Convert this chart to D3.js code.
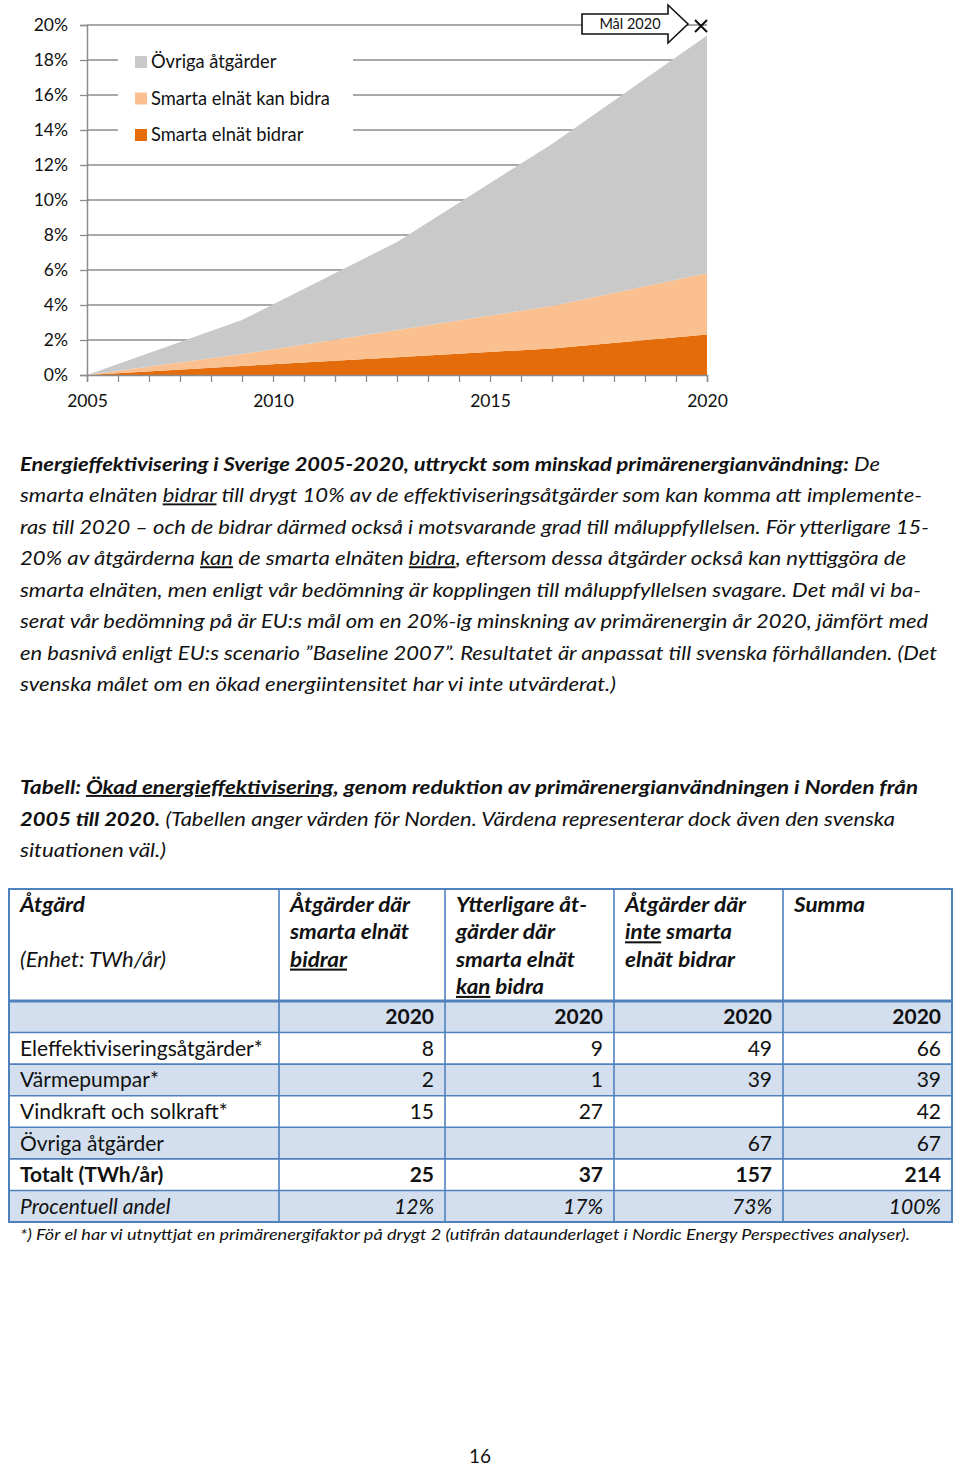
<!DOCTYPE html>
<html><head><meta charset="utf-8">
<script src="https://cdn.jsdelivr.net/npm/d3@7"></script>
<style>
html,body{margin:0;padding:0;background:#fff;}
svg{display:block;}
text{font-family:Lato,"Open Sans",sans-serif;fill:#111;}
</style></head>
<body>
<svg id="page" width="960" height="1466"></svg>
<script>
// ---------- DATA ----------
// category axis: 21 tick slots, labelled at slots 0, 6, 13, 20
const xSlots = d3.range(21);
const xSlotLabels = {0:"2005", 6:"2010", 13:"2015", 20:"2020"};
const pointSlots = [0, 5, 10, 15, 20];
const smartaBidrar   = [0, 0.0052, 0.0101, 0.0152, 0.0232];
const smartaKanBidra = [0, 0.0068, 0.0156, 0.0242, 0.0349];
const ovrigaAtgarder = [0, 0.0194, 0.0503, 0.0926, 0.1359];
const seriesNames = ["Smarta elnät bidrar", "Smarta elnät kan bidra", "Övriga åtgärder"];
const seriesColors = ["#E46C0A", "#FAC090", "#C9C9C9"];
const goalSlot = 20, goalValue = 0.20, goalLabel = "Mål 2020";
const yTicks = [0, 0.02, 0.04, 0.06, 0.08, 0.10, 0.12, 0.14, 0.16, 0.18, 0.20];

const paragraph = [
 "§Energieffektivisering i Sverige 2005-2020, uttryckt som minskad primärenergianvändning:§ De",
 "smarta elnäten _bidrar_ till drygt 10% av de effektiviseringsåtgärder som kan komma att implemente-",
 "ras till 2020 – och de bidrar därmed också i motsvarande grad till måluppfyllelsen. För ytterligare 15-",
 "20% av åtgärderna _kan_ de smarta elnäten _bidra_, eftersom dessa åtgärder också kan nyttiggöra de",
 "smarta elnäten, men enligt vår bedömning är kopplingen till måluppfyllelsen svagare. Det mål vi ba-",
 "serat vår bedömning på är EU:s mål om en 20%-ig minskning av primärenergin år 2020, jämfört med",
 "en basnivå enligt EU:s scenario ”Baseline 2007”. Resultatet är anpassat till svenska förhållanden. (Det",
 "svenska målet om en ökad energiintensitet har vi inte utvärderat.)"
];
const paragraphEnds = [880, 922, 929, 906, 921, 928, 937, 616];

const caption = [
 "§Tabell: _Ökad energieffektivisering_, genom reduktion av primärenergianvändningen i Norden från§",
 "§2005 till 2020.§ (Tabellen anger värden för Norden. Värdena representerar dock även den svenska",
 "situationen väl.)"
];
const captionEnds = [918, 895, 166];

const tableHeaders = [
 ["§Åtgärd§", "", "(Enhet: TWh/år)"],
 ["§Åtgärder där§", "§smarta elnät§", "§_bidrar_§"],
 ["§Ytterligare åt-§", "§gärder där§", "§smarta elnät§", "§_kan_ bidra§"],
 ["§Åtgärder där§", "§_inte_ smarta§", "§elnät bidrar§"],
 ["§Summa§"]
];
const tableHeaderWidths = [
 [65, 0, 146],
 [120, 119, 57],
 [131, 99, 119, 88],
 [121, 107, 110],
 [71]
];
const yearRowLabel = "2020";
const tableRows = ["Eleffektiviseringsåtgärder*", "Värmepumpar*", "Vindkraft och solkraft*", "Övriga åtgärder", "Totalt (TWh/år)", "Procentuell andel"];
const colBidrar   = ["8", "2", "15", "", "25", "12%"];
const colKanBidra = ["9", "1", "27", "", "37", "17%"];
const colInte     = ["49", "39", "", "67", "157", "73%"];
const colSumma    = ["66", "39", "42", "67", "214", "100%"];
const footnote = "*) För el har vi utnyttjat en primärenergifaktor på drygt 2 (utifrån dataunderlaget i Nordic Energy Perspectives analyser).";
const pageNumber = "16";

// ---------- HELPERS ----------
const svg = d3.select("#page");
function segments(str){
  const out = []; let bold=false, und=false, cur="";
  for (const ch of str){
    if (ch==="§"||ch==="_"){ if(cur) out.push({t:cur,b:bold,u:und}); cur=""; if(ch==="§") bold=!bold; else und=!und; }
    else cur+=ch;
  }
  if(cur) out.push({t:cur,b:bold,u:und});
  return out;
}
function richText(g, str, x, y, opts){
  const t = g.append("text").attr("x", x).attr("y", y)
    .style("font-size", opts.size+"px")
    .style("font-style", opts.italic ? "italic" : "normal");
  segments(str).forEach(s=>{
    t.append("tspan").text(s.t)
      .style("font-weight", s.b ? "700" : "400")
      .style("text-decoration", s.u ? "underline" : "none");
  });
  if (opts.width) t.attr("textLength", opts.width).attr("lengthAdjust", "spacingAndGlyphs");
  return t;
}

// ---------- CHART ----------
const x = d3.scaleLinear().domain([0, 20]).range([87, 707]);
const y = d3.scaleLinear().domain([0, 0.20]).range([375, 25]);
const chart = svg.append("g");

chart.append("g").selectAll("line").data(yTicks.slice(1)).join("line")
  .attr("x1", x(0)).attr("x2", x(20))
  .attr("y1", d=>y(d)).attr("y2", d=>y(d))
  .attr("stroke", "#8c8c8c").attr("stroke-width", 1.3);

chart.append("rect").attr("x", 118).attr("y", 42).attr("width", 235).attr("height", 106).attr("fill", "#fff");

const rows = pointSlots.map((s,i)=>({slot:s, a:smartaBidrar[i], b:smartaKanBidra[i], c:ovrigaAtgarder[i]}));
const stack = d3.stack().keys(["a","b","c"])(rows);
const area = d3.area().x(d=>x(d.data.slot)).y0(d=>y(d[0])).y1(d=>y(d[1]));
chart.append("g").selectAll("path").data(stack).join("path")
  .attr("d", area).attr("fill", (d,i)=>seriesColors[i]);

const yAxis = chart.append("g").attr("transform", `translate(${x(0)},0)`)
  .call(d3.axisLeft(y).tickValues(yTicks).tickSize(7).tickPadding(12).tickFormat(d3.format(".0%")));
yAxis.select(".domain").attr("stroke", "#8c8c8c").attr("stroke-width", 1.5);
yAxis.selectAll(".tick line").attr("stroke", "#8c8c8c").attr("stroke-width", 1.3);
yAxis.selectAll(".tick text").style("font-size", "17.5px").attr("fill", "#111").style("font-family", "Lato");

const xAxis = chart.append("g").attr("transform", `translate(0,${y(0)})`)
  .call(d3.axisBottom(x).tickValues(xSlots).tickSize(7).tickPadding(13)
    .tickFormat(d=> xSlotLabels[d] || ""));
xAxis.select(".domain").attr("stroke", "#8c8c8c").attr("stroke-width", 1.5);
xAxis.selectAll(".tick line").attr("stroke", "#8c8c8c").attr("stroke-width", 1.3);
xAxis.selectAll(".tick text").style("font-size", "17.5px").attr("fill", "#111").style("font-family", "Lato");

const legendOrder = [2,1,0];
const lg = chart.append("g");
legendOrder.forEach((si, k)=>{
  const cy = 62 + k*36.5;
  lg.append("rect").attr("x", 135).attr("y", cy-6).attr("width", 12).attr("height", 12).attr("fill", seriesColors[si]);
  lg.append("text").attr("x", 151).attr("y", cy).attr("dy", "0.35em").style("font-size", "18.3px").text(seriesNames[si]);
});

const gx = x(goalSlot), gy = y(goalValue);
const tipX = gx - 19, tipY = gy - 1;
const arrowPts = [[tipX-106,tipY-10],[tipX-20,tipY-10],[tipX-20,tipY-19],[tipX,tipY],[tipX-20,tipY+19],[tipX-20,tipY+10],[tipX-106,tipY+10]];
chart.append("polygon").attr("points", arrowPts.map(p=>p.join(",")).join(" "))
  .attr("fill", "#fff").attr("stroke", "#111").attr("stroke-width", 1.6);
chart.append("text").attr("x", tipX-58).attr("y", tipY).attr("dy", "0.35em").attr("text-anchor", "middle")
  .style("font-size", "14.5px").text(goalLabel);
const mx = gx - 6, my = gy + 1;
chart.append("path").attr("d", `M${mx-6},${my-6}L${mx+6},${my+6}M${mx-6},${my+6}L${mx+6},${my-6}`)
  .attr("stroke", "#111").attr("stroke-width", 2);

// ---------- PARAGRAPH ----------
const pg = svg.append("g");
paragraph.forEach((line, i)=>{
  richText(pg, line, 20, 471 + i*31.43, {size:19, italic:true, width: paragraphEnds[i]-20});
});
caption.forEach((line, i)=>{
  richText(pg, line, 20, 794 + i*31.5, {size:19, italic:true, width: captionEnds[i]-20});
});

// ---------- TABLE ----------
const colEdges = [9, 279, 445, 614, 783, 952];
const headTop = 889, headBottom = 1001, rowH = (1222-1001)/7;
const tg = svg.append("g");
const bodyRows = [{label:"", vals:[yearRowLabel,yearRowLabel,yearRowLabel,yearRowLabel], style:"bold"}]
  .concat(tableRows.map((r,i)=>({label:r, vals:[colBidrar[i], colKanBidra[i], colInte[i], colSumma[i]],
     style: i===4 ? "bold" : (i===5 ? "italic" : "normal")})));
tg.selectAll("rect.bg").data(bodyRows).join("rect").attr("class","bg")
  .attr("x", colEdges[0]).attr("y", (d,i)=>headBottom + i*rowH)
  .attr("width", colEdges[5]-colEdges[0]).attr("height", rowH)
  .attr("fill", (d,i)=> i%2===0 ? "#D3DFEE" : "#fff");
tg.selectAll("line.h").data(d3.range(1, bodyRows.length)).join("line").attr("class","h")
  .attr("x1", colEdges[0]).attr("x2", colEdges[5])
  .attr("y1", d=>headBottom + d*rowH).attr("y2", d=>headBottom + d*rowH)
  .attr("stroke", "#4F81BD").attr("stroke-width", 1.6);
tg.selectAll("line.v").data(colEdges.slice(1,5)).join("line").attr("class","v")
  .attr("x1", d=>d).attr("x2", d=>d).attr("y1", headTop).attr("y2", 1222)
  .attr("stroke", "#4F81BD").attr("stroke-width", 1.6);
tg.append("line").attr("x1", colEdges[0]).attr("x2", colEdges[5]).attr("y1", headBottom).attr("y2", headBottom)
  .attr("stroke", "#4F81BD").attr("stroke-width", 3.2);
tg.append("rect").attr("x", colEdges[0]).attr("y", headTop).attr("width", colEdges[5]-colEdges[0]).attr("height", 1222-headTop)
  .attr("fill", "none").attr("stroke", "#4F81BD").attr("stroke-width", 2);
tableHeaders.forEach((lines, c)=>{
  lines.forEach((ln, k)=>{
    if (!ln) return;
    richText(tg, ln, colEdges[c]+11, 912 + k*27.3, {size:20.5, italic:true, width: tableHeaderWidths[c][k]});
  });
});
bodyRows.forEach((r, i)=>{
  const by = headBottom + i*rowH + rowH/2 + 7.5;
  const weight = r.style==="bold" ? "700" : "400";
  const fstyle = r.style==="italic" ? "italic" : "normal";
  if (r.label) tg.append("text").attr("x", 20).attr("y", by).style("font-size","21px")
      .style("font-weight", weight).style("font-style", fstyle).text(r.label);
  r.vals.forEach((v, c)=>{
    if (!v) return;
    tg.append("text").attr("x", colEdges[c+2]-11).attr("y", by).attr("text-anchor","end")
      .style("font-size","21px").style("font-weight", weight).style("font-style", fstyle).text(v);
  });
});
svg.append("text").attr("x", 20).attr("y", 1240).style("font-size","15px").style("font-style","italic")
  .attr("textLength", 890).attr("lengthAdjust","spacingAndGlyphs").text(footnote);
svg.append("text").attr("x", 480).attr("y", 1463).attr("text-anchor","middle").style("font-size","19px").text(pageNumber);
</script>
</body></html>
